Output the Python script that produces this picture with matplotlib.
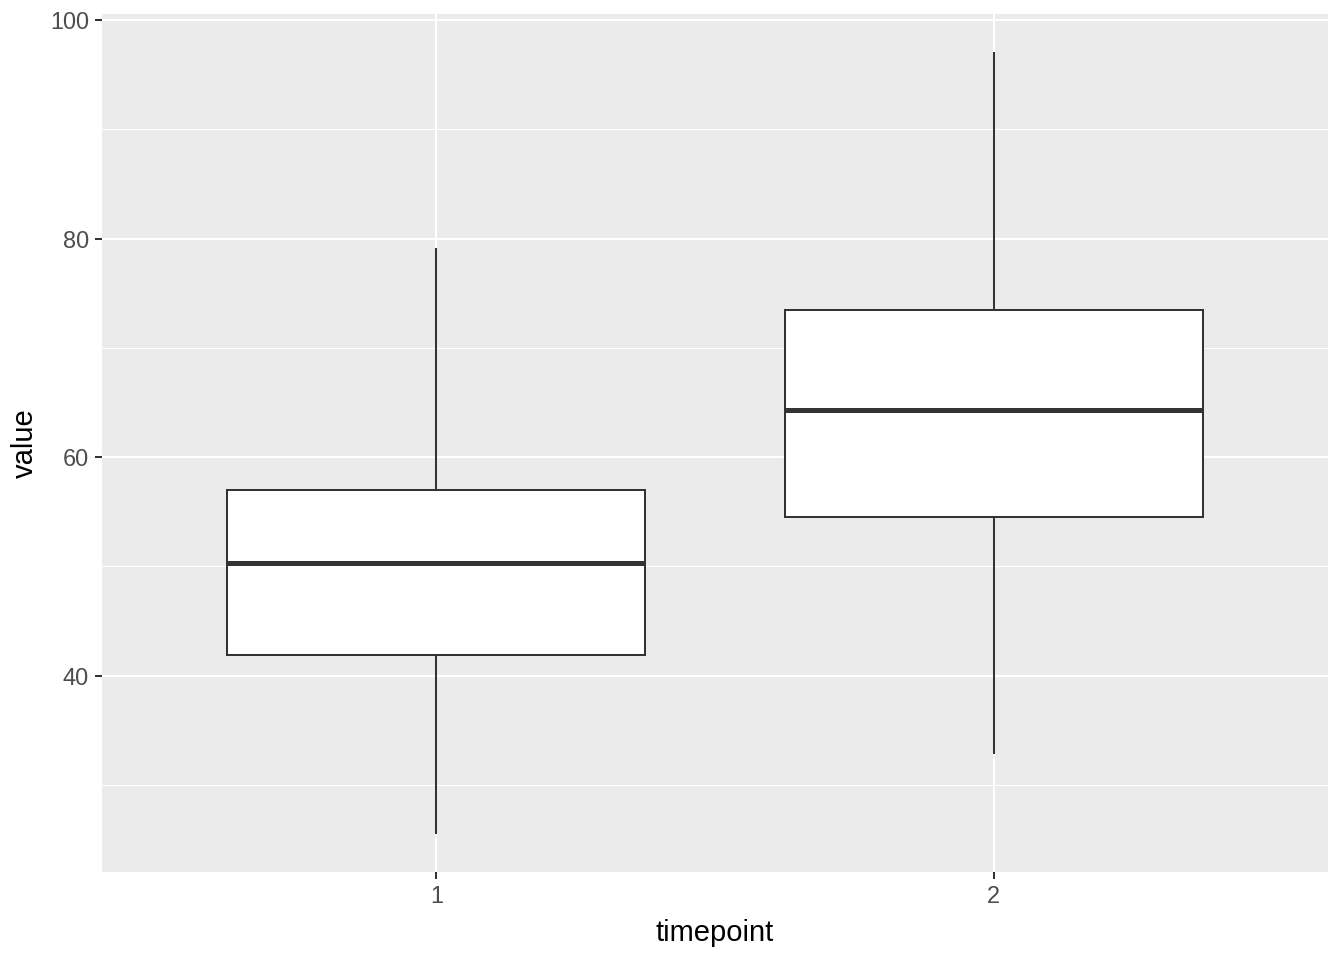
import matplotlib.pyplot as plt

# ==========================================
# 1. DATA
# ==========================================
timepoints = ['1', '2']
whisker_low = [25.6, 32.9]
q1 = [41.9, 54.5]
median = [50.3, 64.3]
q3 = [57.0, 73.5]
whisker_high = [79.1, 97.0]

y_ticks = [40, 60, 80, 100]
y_minor = [30, 50, 70, 90]

stats = []
for i in range(len(timepoints)):
    stats.append({
        'label': timepoints[i],
        'whislo': whisker_low[i],
        'q1': q1[i],
        'med': median[i],
        'q3': q3[i],
        'whishi': whisker_high[i],
    })

# ==========================================
# 2. PLOT (ggplot2 theme_grey look)
# ==========================================
plt.rcParams['font.family'] = ['Liberation Sans', 'DejaVu Sans']

fig = plt.figure(figsize=(13.44, 9.6), dpi=100)
ax = fig.add_axes([102 / 1344, 88 / 960, 1226 / 1344, 858 / 960])
ax.set_facecolor('#EBEBEB')

positions = [1, 2]
ax.bxp(stats, positions=positions, widths=0.75, showcaps=False, showfliers=False,
       patch_artist=True,
       boxprops=dict(facecolor='white', edgecolor='#333333', linewidth=1.45),
       whiskerprops=dict(color='#333333', linewidth=1.45),
       medianprops=dict(color='#333333', linewidth=3.6, solid_capstyle='butt'),
       zorder=3)

# ggplot-like expansion
lo = min(whisker_low)
hi = max(whisker_high)
pad = (hi - lo) * 0.05
ax.set_ylim(lo - pad, hi + pad)
ax.set_xlim(0.4, 2.6)

ax.set_xticks(positions)
ax.set_xticklabels(timepoints)
ax.set_yticks(y_ticks)
ax.set_yticks(y_minor, minor=True)

ax.grid(True, which='major', color='white', linewidth=1.45, zorder=0)
ax.grid(True, which='minor', axis='y', color='white', linewidth=0.75, zorder=0)
ax.set_axisbelow(True)

for side in ['top', 'right', 'left', 'bottom']:
    ax.spines[side].set_visible(False)

ax.tick_params(axis='both', which='major', length=5.3, width=1.45,
               color='#333333', labelcolor='#4D4D4D', labelsize=16.9, pad=4)
ax.tick_params(axis='both', which='minor', length=0)

ax.set_xlabel('timepoint', fontsize=21, color='black', labelpad=8)
ax.set_ylabel('value', fontsize=21, color='black', labelpad=8)

plt.savefig('out.png', dpi=100)
